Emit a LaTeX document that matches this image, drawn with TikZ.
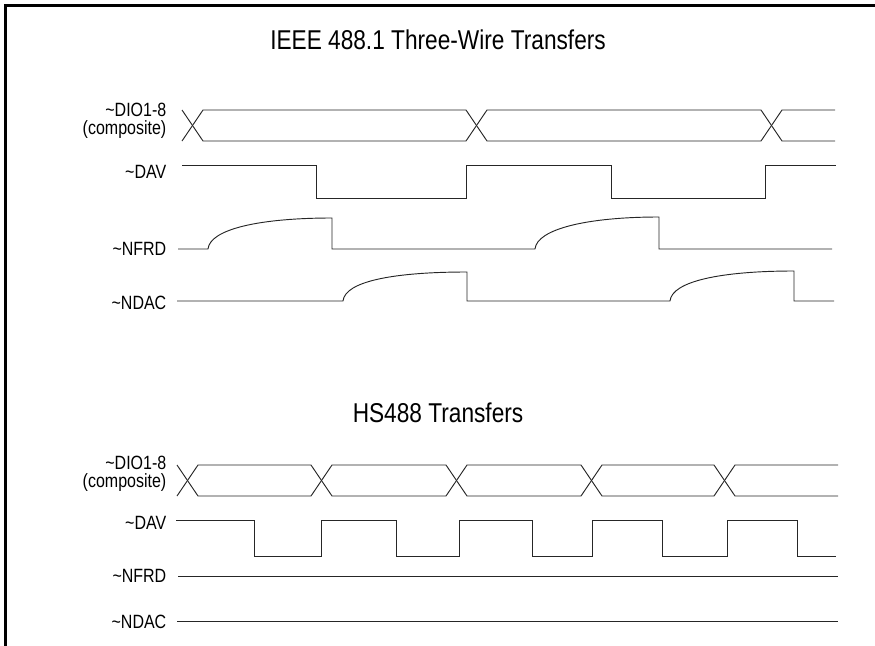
\documentclass[tikz,border=0pt]{standalone}
\usepackage{fontspec}
\setmainfont{Liberation Sans}
\usepackage{graphicx}
\usepackage{tikz}

\newcommand{\tall}[1]{\scalebox{1}[1.2]{#1}}

\begin{document}
\begin{tikzpicture}[x=0.75pt,y=-0.75pt,
        sig/.style={line width=0.7pt,black!85},
        lbl/.style={anchor=base east,align=right,font=\fontsize{12}{13.5}\selectfont},
        ttl/.style={anchor=base,font=\fontsize{17}{20}\selectfont}]
                \useasboundingbox (0,0) rectangle (875,646);
                \draw[line width=2.25pt] (5.5,646) -- (5.5,5.5) -- (875,5.5);

                \node[ttl] (title1) at (438,49) {\tall{IEEE 488.1 Three-Wire Transfers}};
                \node[lbl] (dio1) at (171,134) {\tall{\textasciitilde DIO1-8}\\\tall{(composite)}};
                \node[lbl] (dav1) at (171,178) {\tall{\textasciitilde DAV}};
                \node[lbl] (nfrd1) at (171,255) {\tall{\textasciitilde NFRD}};
                \node[lbl] (ndac1) at (171,309) {\tall{\textasciitilde NDAC}};

                \foreach \a/\b in {182/466,466/761,761/835} {
                    \draw[sig] (\a,110) -- (\a+21,141) -- (\b,141);
                    \draw[sig] (\a,141) -- (\a+21,110) -- (\b,110);
                }
                \draw[sig] (182,165) -- (316,165) -- (316,198) -- (466,198) -- (466,165)
                    -- (611,165) -- (611,198) -- (765,198) -- (765,165) -- (836,165);
                \draw[sig] (178,249) -- (208,249) .. controls (210,229) and (260,218) .. (332,218)
                    -- (332,249) -- (535,249) .. controls (537,229) and (587,217) .. (659,217)
                    -- (659,249) -- (832,249);
                \draw[sig] (177,301) -- (343,301) .. controls (345,281) and (395,272) .. (467,272)
                    -- (467,301) -- (670,301) .. controls (672,281) and (722,271) .. (794,271)
                    -- (794,301) -- (834,301);

                \node[ttl] (title2) at (438,422) {\tall{HS488 Transfers}};
                \node[lbl] (dio2) at (171,487) {\tall{\textasciitilde DIO1-8}\\\tall{(composite)}};
                \node[lbl] (dav2) at (171,529) {\tall{\textasciitilde DAV}};
                \node[lbl] (nfrd2) at (171,582) {\tall{\textasciitilde NFRD}};
                \node[lbl] (ndac2) at (171,628) {\tall{\textasciitilde NDAC}};

                \foreach \a/\b in {177/311,311/446,446/581,581/714,714/838} {
                    \draw[sig] (\a,465) -- (\a+21,496) -- (\b,496);
                    \draw[sig] (\a,496) -- (\a+21,465) -- (\b,465);
                }
                \draw[sig] (176,520) -- (254,520) -- (254,556) -- (321,556) -- (321,520)
                    -- (396,520) -- (396,556) -- (459,556) -- (459,520) -- (532,520)
                    -- (532,556) -- (592,556) -- (592,520) -- (662,520) -- (662,556)
                    -- (727,556) -- (727,520) -- (797,520) -- (797,556) -- (836,556);
                \draw[sig] (178,576) -- (838,576);
                \draw[sig] (177,621) -- (838,621);
            \end{tikzpicture}
\end{document}
